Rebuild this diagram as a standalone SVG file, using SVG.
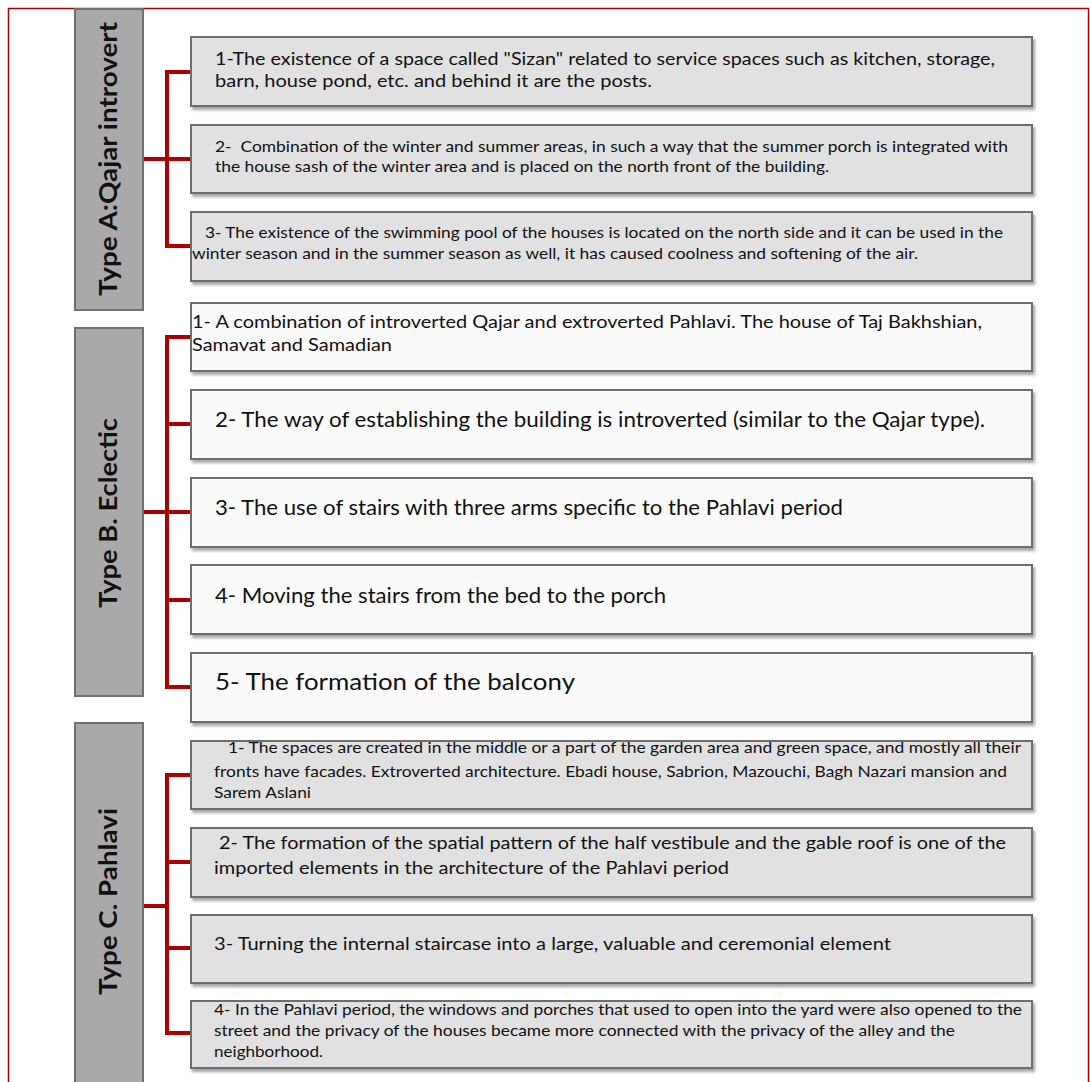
<svg xmlns="http://www.w3.org/2000/svg" width="1090" height="1082" viewBox="0 0 1090 1082">
<defs>
<filter id="sh" x="-5%" y="-20%" width="110%" height="150%">
<feDropShadow dx="2" dy="3" stdDeviation="1.8" flood-color="#000" flood-opacity="0.35"/>
</filter>
<style>
.frame{fill:none;stroke:#b00000;stroke-width:1.5}
.lab{fill:#a9a9a9;stroke:#707070;stroke-width:2}
.bg{fill:#e1e1e1;stroke:#6e6e6e;stroke-width:2;filter:url(#sh)}
.bw{fill:#fafafa;stroke:#6e6e6e;stroke-width:2;filter:url(#sh)}
.conn{fill:none;stroke:#ac0000;stroke-width:4;stroke-linejoin:miter}
text{font-family:Lato,"Liberation Sans",sans-serif;fill:#111;white-space:pre}
.lt{font-weight:bold;font-size:24px;text-anchor:middle}
.s14{font-size:15px}
.s17{font-size:17.5px}
.s21{font-size:21.5px}
</style>
</defs>
<rect x="0" y="0" width="1090" height="1082" fill="#fff"/>
<rect class="frame" x="8.5" y="8.5" width="1080" height="1100"/>

<g id="connectors">
<path class="conn" d="M143,159 H190 M190,72 H167 V246 H190"/>
<path class="conn" d="M143,512 H190 M190,337 H167 V687 H190 M167,424 H190 M167,600 H190"/>
<path class="conn" d="M143,906 H167 M190,775 H167 V1033 H190 M167,862 H190 M167,948 H190"/>
</g>

<g id="labelA"><rect class="lab" x="75" y="9" width="68" height="301"/>
<text class="lt" transform="translate(117,159) rotate(-90)" textLength="274" lengthAdjust="spacingAndGlyphs">Type A:Qajar introvert</text></g>
<g id="labelB"><rect class="lab" x="75" y="328" width="68" height="368"/>
<text class="lt" transform="translate(117,513) rotate(-90)" textLength="190" lengthAdjust="spacingAndGlyphs">Type B. Eclectic</text></g>
<g id="labelC"><rect class="lab" x="75" y="723" width="68" height="380"/>
<text class="lt" transform="translate(117,901.5) rotate(-90)" textLength="187" lengthAdjust="spacingAndGlyphs">Type C. Pahlavi</text></g>

<g id="A1"><rect class="bg" x="191" y="37" width="841" height="69"/>
<text class="s17" x="215" y="65" textLength="780" lengthAdjust="spacingAndGlyphs">1-The existence of a space called "Sizan" related to service spaces such as kitchen, storage,</text>
<text class="s17" x="215" y="87" textLength="437" lengthAdjust="spacingAndGlyphs">barn, house pond, etc. and behind it are the posts.</text></g>
<g id="A2"><rect class="bg" x="191" y="125" width="841" height="68"/>
<text class="s14" x="215" y="152" textLength="793" lengthAdjust="spacingAndGlyphs">2-  Combination of the winter and summer areas, in such a way that the summer porch is integrated with</text>
<text class="s14" x="215" y="172" textLength="614" lengthAdjust="spacingAndGlyphs">the house sash of the winter area and is placed on the north front of the building.</text></g>
<g id="A3"><rect class="bg" x="191" y="212" width="841" height="69"/>
<text class="s14" x="205" y="238" textLength="798" lengthAdjust="spacingAndGlyphs">3- The existence of the swimming pool of the houses is located on the north side and it can be used in the</text>
<text class="s14" x="192" y="259" textLength="726" lengthAdjust="spacingAndGlyphs">winter season and in the summer season as well, it has caused coolness and softening of the air.</text></g>

<g id="B1"><rect class="bw" x="191" y="303" width="841" height="68"/>
<text class="s17" x="192" y="328" textLength="790" lengthAdjust="spacingAndGlyphs">1- A combination of introverted Qajar and extroverted Pahlavi. The house of Taj Bakhshian,</text>
<text class="s17" x="192" y="351" textLength="200" lengthAdjust="spacingAndGlyphs">Samavat and Samadian</text></g>
<g id="B2"><rect class="bw" x="191" y="390" width="841" height="69"/>
<text class="s21" x="215" y="427" textLength="770" lengthAdjust="spacingAndGlyphs">2- The way of establishing the building is introverted (similar to the Qajar type).</text></g>
<g id="B3"><rect class="bw" x="191" y="478" width="841" height="69"/>
<text class="s21" x="215" y="515" textLength="628" lengthAdjust="spacingAndGlyphs">3- The use of stairs with three arms specific to the Pahlavi period</text></g>
<g id="B4"><rect class="bw" x="191" y="565" width="841" height="69"/>
<text class="s21" x="215" y="603" textLength="451" lengthAdjust="spacingAndGlyphs">4- Moving the stairs from the bed to the porch</text></g>
<g id="B5"><rect class="bw" x="191" y="653" width="841" height="69"/>
<text x="215" y="690" style="font-size:22.5px" textLength="360" lengthAdjust="spacingAndGlyphs">5- The formation of the balcony</text></g>

<g id="C1"><rect class="bg" x="191" y="741" width="841" height="68"/>
<text class="s14" x="228" y="753" textLength="793" lengthAdjust="spacingAndGlyphs">1- The spaces are created in the middle or a part of the garden area and green space, and mostly all their</text>
<text class="s14" x="214" y="777" textLength="793" lengthAdjust="spacingAndGlyphs">fronts have facades. Extroverted architecture. Ebadi house, Sabrion, Mazouchi, Bagh Nazari mansion and</text>
<text class="s14" x="214" y="798" textLength="97" lengthAdjust="spacingAndGlyphs">Sarem Aslani</text></g>
<g id="C2"><rect class="bg" x="191" y="828" width="841" height="69"/>
<text class="s17" x="219" y="849" textLength="787" lengthAdjust="spacingAndGlyphs">2- The formation of the spatial pattern of the half vestibule and the gable roof is one of the</text>
<text class="s17" x="214" y="874" textLength="515" lengthAdjust="spacingAndGlyphs">imported elements in the architecture of the Pahlavi period</text></g>
<g id="C3"><rect class="bg" x="191" y="915" width="841" height="68"/>
<text class="s17" x="214" y="950" textLength="677" lengthAdjust="spacingAndGlyphs">3- Turning the internal staircase into a large, valuable and ceremonial element</text></g>
<g id="C4"><rect class="bg" x="191" y="1001" width="841" height="67"/>
<text class="s14" x="214" y="1015" textLength="808" lengthAdjust="spacingAndGlyphs">4- In the Pahlavi period, the windows and porches that used to open into the yard were also opened to the</text>
<text class="s14" x="214" y="1036" textLength="741" lengthAdjust="spacingAndGlyphs">street and the privacy of the houses became more connected with the privacy of the alley and the</text>
<text class="s14" x="214" y="1057" textLength="109" lengthAdjust="spacingAndGlyphs">neighborhood.</text></g>
</svg>
